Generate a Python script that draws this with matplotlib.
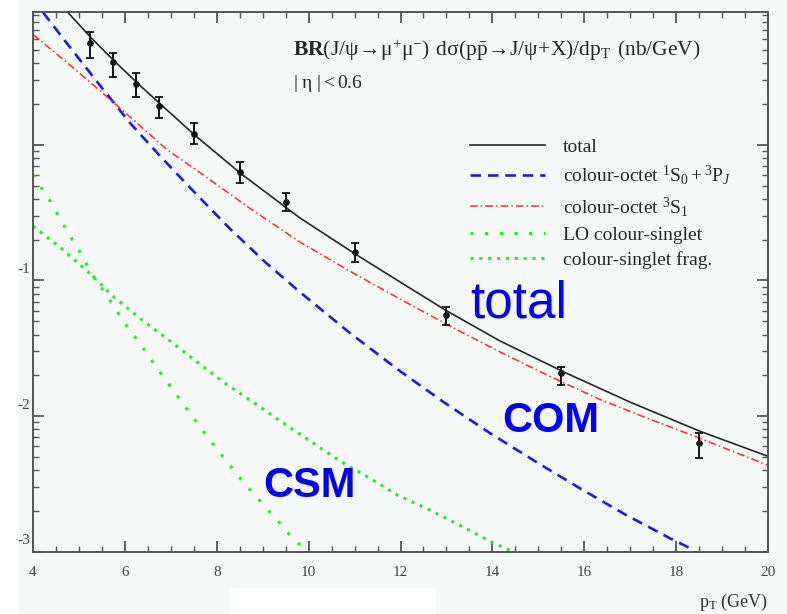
import numpy as np
import matplotlib
matplotlib.use('Agg')
import matplotlib.pyplot as plt
import matplotlib.transforms as mtransforms
from matplotlib.patches import Rectangle

plt.rcParams['font.family'] = 'serif'
plt.rcParams['font.serif'] = ['Liberation Serif', 'DejaVu Serif']
plt.rcParams['mathtext.fontset'] = 'custom'
plt.rcParams['mathtext.rm'] = 'Liberation Serif'
plt.rcParams['mathtext.it'] = 'Liberation Serif:italic'
plt.rcParams['mathtext.bf'] = 'Liberation Serif:bold'

# CDF data points (pT in GeV, nb/GeV)
pt_data = [5.25, 5.75, 6.25, 6.75, 7.5, 8.5, 9.5, 11, 13, 15.5, 18.5]
y_data = [5.66, 4.10, 2.82, 1.94, 1.19, 0.632, 0.380, 0.162, 0.0556, 0.0208, 0.00632]
y_hi = [6.71, 4.77, 3.40, 2.26, 1.45, 0.749, 0.442, 0.189, 0.0637, 0.0230, 0.00750]
y_lo = [4.39, 3.18, 2.26, 1.58, 1.02, 0.525, 0.326, 0.137, 0.0470, 0.0169, 0.00490]

# total
pt_total = [4.74, 5.28, 5.76, 6.26, 6.79, 7.53, 8.53, 9.81, 11.05, 11.99, 13.01, 14.17, 15.62, 17.0, 18.52, 20.0]
y_total = [9.59, 6.06, 4.17, 2.87, 1.97, 1.17, 0.611, 0.289, 0.154, 0.0975, 0.0596, 0.0358, 0.0207, 0.0127, 0.00775, 0.00507]

# colour-octet 3S1
pt_3s1 = [4.0, 4.74, 5.46, 6.18, 6.92, 7.64, 8.68, 9.81, 10.90, 11.99, 13.08, 14.17, 15.25, 16.34, 17.43, 18.52, 20.0]
y_3s1 = [6.49, 4.03, 2.50, 1.53, 0.919, 0.621, 0.348, 0.192, 0.117, 0.0730, 0.0461, 0.0297, 0.0197, 0.0133, 0.00950, 0.00688, 0.00435]

# colour-octet 1S0 + 3PJ
pt_1s0 = [4.22, 4.81, 5.46, 6.11, 6.70, 7.42, 8.29, 9.05, 9.81, 10.90, 11.99, 12.97, 13.95, 14.93, 15.91, 16.89, 17.87, 18.37]
y_1s0 = [9.42, 5.20, 2.73, 1.45, 0.873, 0.482, 0.240, 0.137, 0.0822, 0.0410, 0.0215, 0.0125, 0.00750, 0.00466, 0.00294, 0.00189, 0.00126, 0.00104]

# LO colour-singlet
pt_lo = [4.0, 4.37, 4.68, 4.98, 5.31, 5.63, 5.98, 6.35, 6.70, 7.05, 7.42, 7.79, 8.18, 8.58, 8.99, 9.38, 9.60, 9.90]
y_lo_cs = [0.60, 0.386, 0.252, 0.171, 0.108, 0.0755, 0.0494, 0.0334, 0.0226, 0.0156, 0.0105, 0.00711, 0.00482, 0.00326, 0.00228, 0.00162, 0.00132, 0.00106]

# colour-singlet fragmentation
pt_frag = [4.0, 4.63, 5.22, 5.76, 6.35, 6.96, 7.57, 8.18, 8.79, 9.42, 10.07, 10.73, 11.34, 11.95, 12.57, 13.08, 13.51, 14.01, 14.38]
y_frag = [0.252, 0.171, 0.114, 0.0755, 0.0520, 0.0364, 0.0251, 0.0175, 0.0127, 0.00904, 0.00643, 0.00458, 0.00348, 0.00261, 0.00209, 0.00171, 0.00144, 0.00117, 0.00103]

ytick_vals = [1e-1, 1e-2, 1e-3]
ytick_text = ['-1', '-2', '-3']

bg = '#f4f8f6'
ink = '#262626'
green = '#22ee22'

fig = plt.figure(figsize=(7.87, 6.14), dpi=100, facecolor=bg)
ax = fig.add_axes([33 / 787, 1 - 552 / 614, 735 / 787, 540 / 614])
ax.set_facecolor(bg)

fig.add_artist(Rectangle((0, 0), 18 / 787, 1, transform=fig.transFigure, color='white', zorder=-5))
fig.add_artist(Rectangle((230 / 787, 0), 205 / 787, 26 / 614, transform=fig.transFigure, color='white', zorder=-5))

l_lo, = ax.plot(pt_lo, y_lo_cs, color=green, lw=2.2, linestyle=(0, (1, 3.8)))
l_frag, = ax.plot(pt_frag, y_frag, color=green, lw=2.2, linestyle=(0, (1, 1.9)))
l_1s0, = ax.plot(pt_1s0, y_1s0, color='#1a1aee', lw=1.9, linestyle=(0, (4, 2.6)))
l_3s1, = ax.plot(pt_3s1, y_3s1, color='#ff2a2a', lw=1.1, linestyle=(0, (5, 2, 1, 2)))
l_tot, = ax.plot(pt_total, y_total, color=ink, lw=1.2)

yerr = [np.array(y_data) - np.array(y_lo), np.array(y_hi) - np.array(y_data)]
ax.errorbar(pt_data, y_data, yerr=yerr, fmt='o', color='#111111', ms=3.8,
            elinewidth=1.4, capsize=3, capthick=1.3, zorder=5)

ax.set_yscale('log')
ax.set_xlim(4, 20)
ax.set_ylim(1e-3, 9.5)

ax.set_xticks(np.arange(4, 21, 2))
ax.set_xticks(np.arange(4, 20.01, 0.5), minor=True)
ax.set_yticks([1e-3, 1e-2, 1e-1, 1])
ax.set_yticklabels([])
ax.tick_params(which='both', direction='in', top=True, right=True, color='#555555')
ax.tick_params(which='major', length=8, width=1.3, labelsize=11, labelcolor='#444444', pad=10)
ax.tick_params(which='minor', length=4, width=1.0)
for s in ax.spines.values():
    s.set_color('#555555')
    s.set_linewidth(1.4)

trans = mtransforms.blended_transform_factory(ax.transAxes, ax.transData)
for v, t in zip(ytick_vals, ytick_text):
    ax.text(-0.004, v * 1.08, t, transform=trans, ha='right', va='bottom', fontsize=11, color='#444444')

ax.text(1.0, -0.102, r'$\mathrm{p_T}$ (GeV)', transform=ax.transAxes, ha='right', va='baseline',
        fontsize=13, color='#333333')

ax.text(0.354, 0.9185,
        r'$\mathbf{BR}\mathrm{(J/\psi\!\rightarrow\!\mu^{+}\mu^{-})\;\, d\sigma(p\bar{p}\!\rightarrow\!J/\psi\!+\!X)/dp_{T}\;\, (nb/GeV)}$',
        transform=ax.transAxes, ha='left', va='baseline', fontsize=15.5, color=ink)
ax.text(0.354, 0.859, r'$\mathrm{|\ \eta\ | < 0.6}$', transform=ax.transAxes, ha='left', va='baseline',
        fontsize=14, color=ink)

labels = ['total',
          r'colour-octet $^{1}\mathrm{S}_{0}+{}^{3}\mathrm{P}_{J}$',
          r'colour-octet $^{3}\mathrm{S}_{1}$',
          'LO colour-singlet',
          'colour-singlet frag.']
leg = ax.legend([l_tot, l_1s0, l_3s1, l_lo, l_frag], labels, loc='upper left',
                bbox_to_anchor=(0.5946, 0.766), frameon=False, borderpad=0, borderaxespad=0,
                handlelength=3.85, handletextpad=0.93, labelspacing=0.38, fontsize=14)
for t in leg.get_texts():
    t.set_color(ink)

ax.text(0.5946, 0.435, 'total', transform=ax.transAxes, ha='left', va='baseline',
        fontsize=37, color='#0000ff', family='Liberation Sans')
ax.text(0.639, 0.222, 'COM', transform=ax.transAxes, ha='left', va='baseline',
        fontsize=30, color='#0000ff', family='Liberation Sans', weight='bold')
ax.text(0.313, 0.102, 'CSM', transform=ax.transAxes, ha='left', va='baseline',
        fontsize=30, color='#0000ff', family='Liberation Sans', weight='bold')

fig.savefig('out.png', dpi=100, facecolor=bg)
